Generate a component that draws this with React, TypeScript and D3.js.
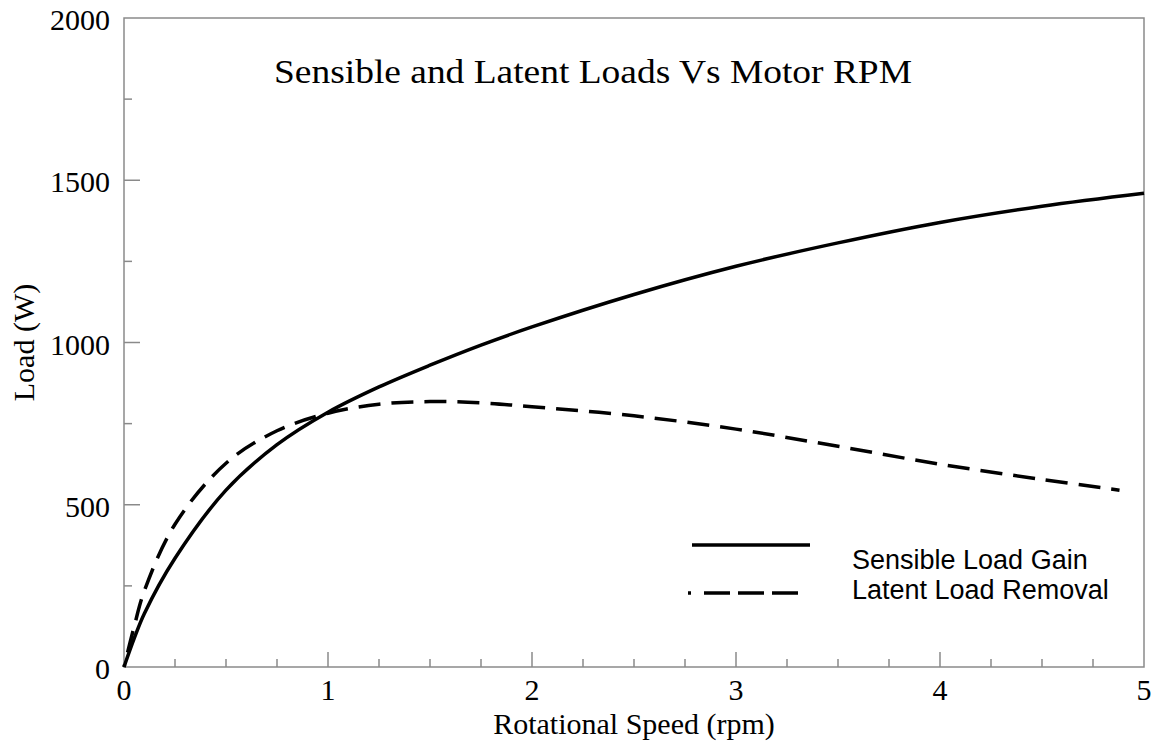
import * as d3 from 'd3'
import { useEffect, useRef } from 'react'

// rotational speed (rpm) at which both loads are read
const speed = [0, 0.05, 0.1, 0.25, 0.5, 0.75, 1, 1.25, 1.5, 1.75, 2, 2.5, 3, 3.5, 4, 4.5, 5]
// sensible load gain (W)
const sensible = [0, 88, 165, 335, 545, 685, 785, 863, 930, 992, 1048, 1148, 1235, 1307, 1370, 1420, 1460]

const latentSpeed = [0, 0.05, 0.1, 0.25, 0.5, 0.75, 1, 1.25, 1.5, 1.75, 2, 2.5, 3, 3.5, 4, 4.5, 4.88]
// latent load removal (W)
const latent = [0, 125, 235, 440, 628, 728, 782, 810, 818, 814, 802, 774, 733, 680, 625, 578, 545]

const xTicks = [0, 1, 2, 3, 4, 5]
const yTicks = [0, 500, 1000, 1500, 2000]
const legendLabels = ['Sensible Load Gain', 'Latent Load Removal']

const W = 1156
const H = 749
const serif = '"Liberation Serif", "Times New Roman", serif'
const sans = '"Liberation Sans", Arial, sans-serif'

const App = () => {
  const svgRef = useRef<SVGSVGElement>(null)

  useEffect(() => {
    const svg = d3.select(svgRef.current)
    svg.selectAll('*').remove()

    const x = d3.scaleLinear().domain([0, 5]).range([124, 1144])
    const y = d3.scaleLinear().domain([0, 2000]).range([667, 18])
    const axisColor = '#8a8a8a'

    // frame
    svg
      .append('rect')
      .attr('x', x(0))
      .attr('y', y(2000))
      .attr('width', x(5) - x(0))
      .attr('height', y(0) - y(2000))
      .attr('fill', 'none')
      .attr('stroke', axisColor)
      .attr('stroke-width', 1.5)

    // x ticks (inside, minor every 0.25)
    const xMinor = d3.range(1, 20).map((i) => i * 0.25)
    svg
      .append('g')
      .selectAll('line')
      .data(xMinor)
      .join('line')
      .attr('x1', (d) => x(d))
      .attr('x2', (d) => x(d))
      .attr('y1', y(0))
      .attr('y2', (d) => y(0) - (Number.isInteger(d) ? 15 : 8))
      .attr('stroke', axisColor)
      .attr('stroke-width', 1.5)

    const yMinor = d3.range(1, 8).map((i) => i * 250)
    svg
      .append('g')
      .selectAll('line')
      .data(yMinor)
      .join('line')
      .attr('x1', x(0))
      .attr('x2', (d) => x(0) + (d % 500 === 0 ? 16 : 8))
      .attr('y1', (d) => y(d))
      .attr('y2', (d) => y(d))
      .attr('stroke', axisColor)
      .attr('stroke-width', 1.5)

    // tick labels
    svg
      .append('g')
      .selectAll('text')
      .data(xTicks)
      .join('text')
      .attr('x', (d) => x(d))
      .attr('y', 700)
      .attr('text-anchor', 'middle')
      .attr('font-family', serif)
      .attr('font-size', 30)
      .text((d) => d)

    svg
      .append('g')
      .selectAll('text')
      .data(yTicks)
      .join('text')
      .attr('x', 110)
      .attr('y', (d) => y(d) + 12)
      .attr('text-anchor', 'end')
      .attr('font-family', serif)
      .attr('font-size', 30)
      .text((d) => d)

    // axis titles
    svg
      .append('text')
      .attr('x', 634)
      .attr('y', 734)
      .attr('text-anchor', 'middle')
      .attr('font-family', serif)
      .attr('font-size', 30)
      .text('Rotational Speed (rpm)')

    svg
      .append('text')
      .attr('transform', `translate(34, ${(y(0) + y(2000)) / 2}) rotate(-90)`)
      .attr('text-anchor', 'middle')
      .attr('font-family', serif)
      .attr('font-size', 30)
      .text('Load (W)')

    svg
      .append('text')
      .attr('x', 274)
      .attr('y', 83)
      .attr('font-family', serif)
      .attr('font-size', 34)
      .attr('textLength', 638)
      .attr('lengthAdjust', 'spacingAndGlyphs')
      .text('Sensible and Latent Loads Vs Motor RPM')

    // curves
    const line = d3
      .line<[number, number]>()
      .x((d) => x(d[0]))
      .y((d) => y(d[1]))
      .curve(d3.curveCatmullRom.alpha(0.5))

    svg
      .append('path')
      .attr('d', line(speed.map((s, i) => [s, sensible[i]] as [number, number])))
      .attr('fill', 'none')
      .attr('stroke', '#000')
      .attr('stroke-width', 3.5)

    const dash = ['3 12'].concat(d3.range(60).map(() => '22 11')).join(' ')
    svg
      .append('path')
      .attr('d', line(latentSpeed.map((s, i) => [s, latent[i]] as [number, number])))
      .attr('fill', 'none')
      .attr('stroke', '#000')
      .attr('stroke-width', 3.5)
      .attr('stroke-dasharray', dash)

    // legend
    const lg = svg.append('g')
    lg.append('line')
      .attr('x1', 692)
      .attr('x2', 810)
      .attr('y1', 545)
      .attr('y2', 545)
      .attr('stroke', '#000')
      .attr('stroke-width', 3.5)
    lg.append('line')
      .attr('x1', 688)
      .attr('x2', 798)
      .attr('y1', 593)
      .attr('y2', 593)
      .attr('stroke', '#000')
      .attr('stroke-width', 3.5)
      .attr('stroke-dasharray', '3 13 26 8 26 8 26')
    lg.selectAll('text')
      .data(legendLabels)
      .join('text')
      .attr('x', 852)
      .attr('y', (d, i) => 569 + i * 30)
      .attr('font-family', sans)
      .attr('font-size', 27)
      .text((d) => d)
  }, [])

  return (
    <svg
      ref={svgRef}
      width={W}
      height={H}
      style={{ position: 'absolute', left: 0, top: 0, background: '#fff' }}
    ></svg>
  )
}

export default App
